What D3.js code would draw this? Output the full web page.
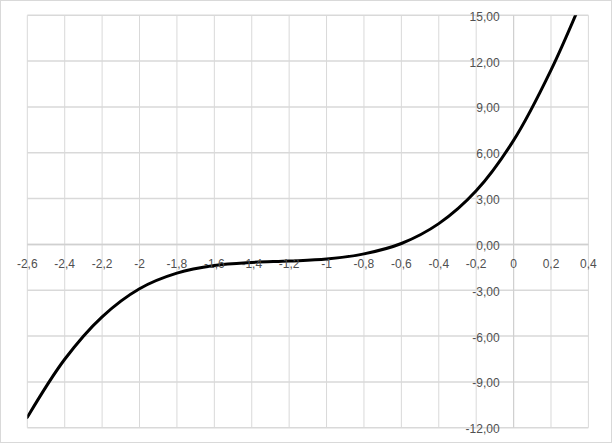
<!DOCTYPE html>
<html>
<head>
<meta charset="utf-8">
<script src="https://cdn.jsdelivr.net/npm/d3@7"></script>
<style>
  html, body { margin: 0; padding: 0; background: #ffffff; }
  svg { display: block; }
  text { font-family: "Liberation Sans", Arial, sans-serif; font-size: 12px; fill: #505050; }
</style>
</head>
<body>
<svg id="chart" width="613" height="444"></svg>
<script>
// ---- data ----
const xValues = [-2.6, -2.4, -2.2, -2.0, -1.8, -1.6, -1.4, -1.2, -1.0, -0.8, -0.6, -0.4, -0.2, 0.0, 0.2, 0.4];
const yValues = [-11.32, -7.52, -4.74, -2.9, -1.88, -1.38, -1.18, -1.09, -0.96, -0.62, 0.06, 1.36, 3.51, 6.81, 11.41, 17.0];

// tick values / labels
const xTicks = [-2.6, -2.4, -2.2, -2.0, -1.8, -1.6, -1.4, -1.2, -1.0, -0.8, -0.6, -0.4, -0.2, 0.0, 0.2, 0.4];
const xTickLabels = ["-2,6", "-2,4", "-2,2", "-2", "-1,8", "-1,6", "-1,4", "-1,2", "-1", "-0,8", "-0,6", "-0,4", "-0,2", "0", "0,2", "0,4"];
const yTicks = [15, 12, 9, 6, 3, 0, -3, -6, -9, -12];
const yTickLabels = ["15,00", "12,00", "9,00", "6,00", "3,00", "0,00", "-3,00", "-6,00", "-9,00", "-12,00"];

// ---- layout ----
const W = 613, H = 444;
const plot = { left: 27.3, top: 15.3, right: 588.4, bottom: 427.7 };

const svg = d3.select("#chart");

// outer chart border
svg.append("rect")
  .attr("x", 0.5).attr("y", 0.5)
  .attr("width", 611).attr("height", 442)
  .attr("fill", "#ffffff")
  .attr("stroke", "#d9d9d9").attr("stroke-width", 1);

const x = d3.scaleLinear().domain([-2.6, 0.4]).range([plot.left, plot.right]);
const y = d3.scaleLinear().domain([-12, 15]).range([plot.bottom, plot.top]);

// vertical gridlines
svg.append("g").selectAll("line")
  .data(xTicks).join("line")
  .attr("x1", d => x(d)).attr("x2", d => x(d))
  .attr("y1", plot.top).attr("y2", plot.bottom)
  .attr("stroke", "#d9d9d9").attr("stroke-width", 1);

// horizontal gridlines
svg.append("g").selectAll("line")
  .data(yTicks).join("line")
  .attr("x1", plot.left).attr("x2", plot.right)
  .attr("y1", d => y(d)).attr("y2", d => y(d))
  .attr("stroke", "#d9d9d9").attr("stroke-width", 1.5);

// axis lines through zero
svg.append("line")
  .attr("x1", x(0)).attr("x2", x(0))
  .attr("y1", plot.top).attr("y2", plot.bottom)
  .attr("stroke", "#d0d0d0").attr("stroke-width", 1.2);
svg.append("line")
  .attr("x1", plot.left).attr("x2", plot.right)
  .attr("y1", y(0)).attr("y2", y(0))
  .attr("stroke", "#d0d0d0").attr("stroke-width", 1.5);

// clip for curve
svg.append("defs").append("clipPath").attr("id", "plotClip")
  .append("rect")
  .attr("x", plot.left).attr("y", plot.top)
  .attr("width", plot.right - plot.left).attr("height", plot.bottom - plot.top);

const points = xValues.map((v, i) => [v, yValues[i]]);
const line = d3.line()
  .x(d => x(d[0]))
  .y(d => y(d[1]))
  .curve(d3.curveCatmullRom.alpha(0.5));

svg.append("path")
  .datum(points)
  .attr("clip-path", "url(#plotClip)")
  .attr("fill", "none")
  .attr("stroke", "#000000")
  .attr("stroke-width", 3)
  .attr("stroke-linejoin", "round")
  .attr("stroke-linecap", "round")
  .attr("d", line);

// x tick labels (just below the horizontal zero axis)
svg.append("g").selectAll("text")
  .data(xTicks).join("text")
  .attr("x", d => x(d))
  .attr("y", y(0) + 24)
  .attr("text-anchor", "middle")
  .text((d, i) => xTickLabels[i]);

// y tick labels (left of the vertical zero axis)
svg.append("g").selectAll("text")
  .data(yTicks).join("text")
  .attr("x", x(0) - 14)
  .attr("y", d => y(d) + 5.5)
  .attr("text-anchor", "end")
  .text((d, i) => yTickLabels[i]);
</script>
</body>
</html>
